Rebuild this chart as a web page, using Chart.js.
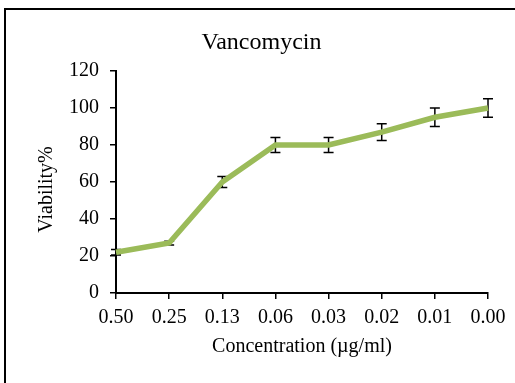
<!DOCTYPE html>
<html>
<head>
<meta charset="utf-8">
<script src="https://cdn.jsdelivr.net/npm/chart.js@4"></script>
<style>
  body { margin: 0; background: #fff; }
  #frame {
    position: absolute; left: 4px; top: 8px; width: 520px; height: 400px;
    border-top: 2px solid #000; border-left: 2px solid #000;
  }
  #wrap { position: absolute; left: 0; top: 0; width: 515px; height: 383px; }
</style>
</head>
<body>
<div id="frame"></div>
<div id="wrap"><canvas id="myChart"></canvas></div>
<script>
var labels = ['0.50', '0.25', '0.13', '0.06', '0.03', '0.02', '0.01', '0.00'];
var viability = [22, 27, 60, 80, 80, 87, 95, 100];
var errors = [1.5, 1, 3, 4, 4, 4.5, 5, 5];
var yTicks = [0, 20, 40, 60, 80, 100, 120];

var serif = "'Liberation Serif', 'Times New Roman', serif";

// error bars, drawn under the line
var errorBars = {
    id: 'errorBars',
    beforeDatasetsDraw: function (chart) {
        var ctx = chart.ctx;
        var x = chart.scales.x;
        var y = chart.scales.y;
        ctx.save();
        ctx.strokeStyle = '#000';
        ctx.lineWidth = 1.5;
        viability.forEach(function (v, i) {
            var px = x.getPixelForValue(i);
            var top = y.getPixelForValue(v + errors[i]);
            var bot = y.getPixelForValue(v - errors[i]);
            ctx.beginPath();
            ctx.moveTo(px, top); ctx.lineTo(px, bot);
            ctx.moveTo(px - 5, top); ctx.lineTo(px + 5, top);
            ctx.moveTo(px - 5, bot); ctx.lineTo(px + 5, bot);
            ctx.stroke();
        });
        ctx.restore();
    }
};

const ctx = document.getElementById('myChart').getContext('2d');
new Chart(ctx, {
    type: 'line',
    data: {
        labels: labels,
        datasets: [{
            label: 'Vancomycin',
            data: viability,
            borderColor: '#9BBB59',
            borderWidth: 5.5,
            pointRadius: 0,
            tension: 0,
            fill: false
        }]
    },
    options: {
        responsive: true,
        maintainAspectRatio: false,
        animation: false,
        layout: { padding: { left: 35, right: 27, top: 0, bottom: 0 } },
        plugins: {
            legend: { display: false },
            tooltip: { enabled: false },
            title: {
                display: true,
                text: 'Vancomycin',
                color: '#000',
                font: { family: serif, size: 24, weight: 'normal' },
                padding: { top: 28.5, bottom: 13.7 }
            }
        },
        scales: {
            x: {
                offset: false,
                grid: { display: true, drawOnChartArea: false, drawTicks: true, tickLength: 6, color: '#000', lineWidth: 1.5 },
                border: { display: true, color: '#000', width: 2 },
                ticks: { color: '#000', font: { family: serif, size: 20 }, padding: 7, maxRotation: 0, autoSkip: false },
                title: {
                    display: true,
                    text: 'Concentration (µg/ml)',
                    color: '#000',
                    font: { family: serif, size: 20 },
                    padding: { top: 24, bottom: 24 }
                },
                afterFit: function (scale) { scale.height = 90; }
            },
            y: {
                min: 0,
                max: 120,
                afterBuildTicks: function (scale) {
                    scale.ticks = yTicks.map(function (v) { return { value: v }; });
                },
                grid: { display: true, drawOnChartArea: false, drawTicks: true, tickLength: 6, color: '#000', lineWidth: 1.5 },
                border: { display: true, color: '#000', width: 2 },
                ticks: { color: '#000', font: { family: serif, size: 20 }, padding: 11 },
                title: {
                    display: true,
                    text: 'Viability%   ',
                    color: '#000',
                    font: { family: serif, size: 20 },
                    padding: 0
                },
                afterFit: function (scale) { scale.width = 81; }
            }
        }
    },
    plugins: [errorBars]
});
</script>
</body>
</html>
